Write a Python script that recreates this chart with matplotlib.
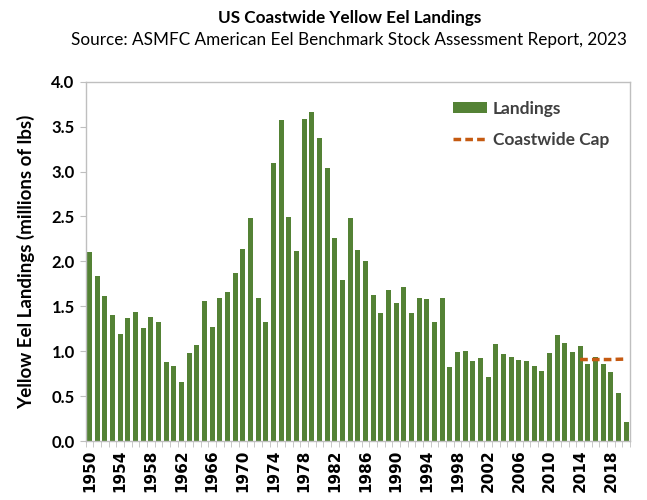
import numpy as np
import matplotlib
matplotlib.use("Agg")
import matplotlib.pyplot as plt

# Yellow eel landings, millions of lbs
years = list(range(1950, 2021))
landings = [
    2.10, 1.84, 1.61, 1.40, 1.19, 1.37, 1.44, 1.26, 1.38, 1.32,   # 1950s
    0.88, 0.83, 0.66, 0.98, 1.07, 1.56, 1.27, 1.59, 1.66, 1.87,   # 1960s
    2.14, 2.48, 1.59, 1.33, 3.10, 3.57, 2.49, 2.11, 3.59, 3.66,   # 1970s
    3.37, 3.04, 2.26, 1.79, 2.48, 2.13, 2.00, 1.63, 1.43, 1.68,   # 1980s
    1.54, 1.71, 1.43, 1.59, 1.58, 1.33, 1.59, 0.82, 0.99, 1.00,   # 1990s
    0.89, 0.92, 0.71, 1.08, 0.97, 0.93, 0.90, 0.89, 0.83, 0.78,   # 2000s
    0.98, 1.18, 1.09, 0.99, 1.06, 0.86, 0.93, 0.86, 0.77, 0.53,   # 2010s
    0.21,                                                         # 2020
]
cap_years = [2014, 2015, 2016, 2017, 2018, 2019, 2020]
cap_values = [0.907, 0.907, 0.907, 0.907, 0.907, 0.910, 0.912]

title = "US Coastwide Yellow Eel Landings"
subtitle = "Source: ASMFC American Eel Benchmark Stock Assessment Report, 2023"
ylabel = "Yellow Eel Landings (millions of lbs)"

GREEN = "#548235"
ORANGE = "#C55A11"
GRID = "#BFBFBF"

plt.rcParams["font.family"] = ["Lato", "DejaVu Sans"]

fig = plt.figure(figsize=(6.47, 5.00), dpi=100)
ax = fig.add_axes([0.1325, 0.118, 0.8412, 0.7186])

bars = ax.bar(years, landings, width=0.65, color=GREEN, label="Landings", zorder=2)
cap, = ax.plot(cap_years, cap_values, color=ORANGE, lw=2.5, ls=(0, (2.2, 1.2)),
               label="Coastwide Cap", zorder=3)

ax.set_xlim(1949.5, 2020.5)
ax.set_ylim(0, 4.0)
yt = np.arange(0, 4.01, 0.5)
ax.set_yticks(yt)
ax.set_yticklabels([f"{v:.1f}" for v in yt], fontsize=12, fontweight="bold")

major = list(range(1950, 2019, 4))
ax.set_xticks(major)
ax.set_xticklabels([str(y) for y in major], rotation=90, fontsize=11,
                   fontweight="bold", family="DejaVu Sans")
ax.set_xticks(np.arange(1949.5, 2021, 1.0), minor=True)
ax.tick_params(axis="x", which="major", length=0, pad=6)
ax.tick_params(axis="x", which="minor", length=4, color=GRID, direction="out")
ax.tick_params(axis="y", length=4, color=GRID, pad=4)

for s in ax.spines.values():
    s.set_color(GRID)
    s.set_linewidth(1.0)

ax.set_ylabel(ylabel, fontsize=13.5, fontweight="bold", labelpad=12)

leg = ax.legend([bars, cap], ["Landings", "Coastwide Cap"], loc="upper right",
                bbox_to_anchor=(0.99, 0.99), frameon=False,
                prop={"size": 12.5, "weight": "bold"}, labelspacing=0.85,
                handlelength=2.0, handleheight=0.6, handletextpad=0.3)
for t in leg.get_texts():
    t.set_color("#404040")

fig.text(0.54, 0.965, title, ha="center", va="center", fontsize=12.3,
         fontweight="bold")
fig.text(0.54, 0.921, subtitle, ha="center", va="center", fontsize=12.3)

fig.savefig("out.png", dpi=100)
